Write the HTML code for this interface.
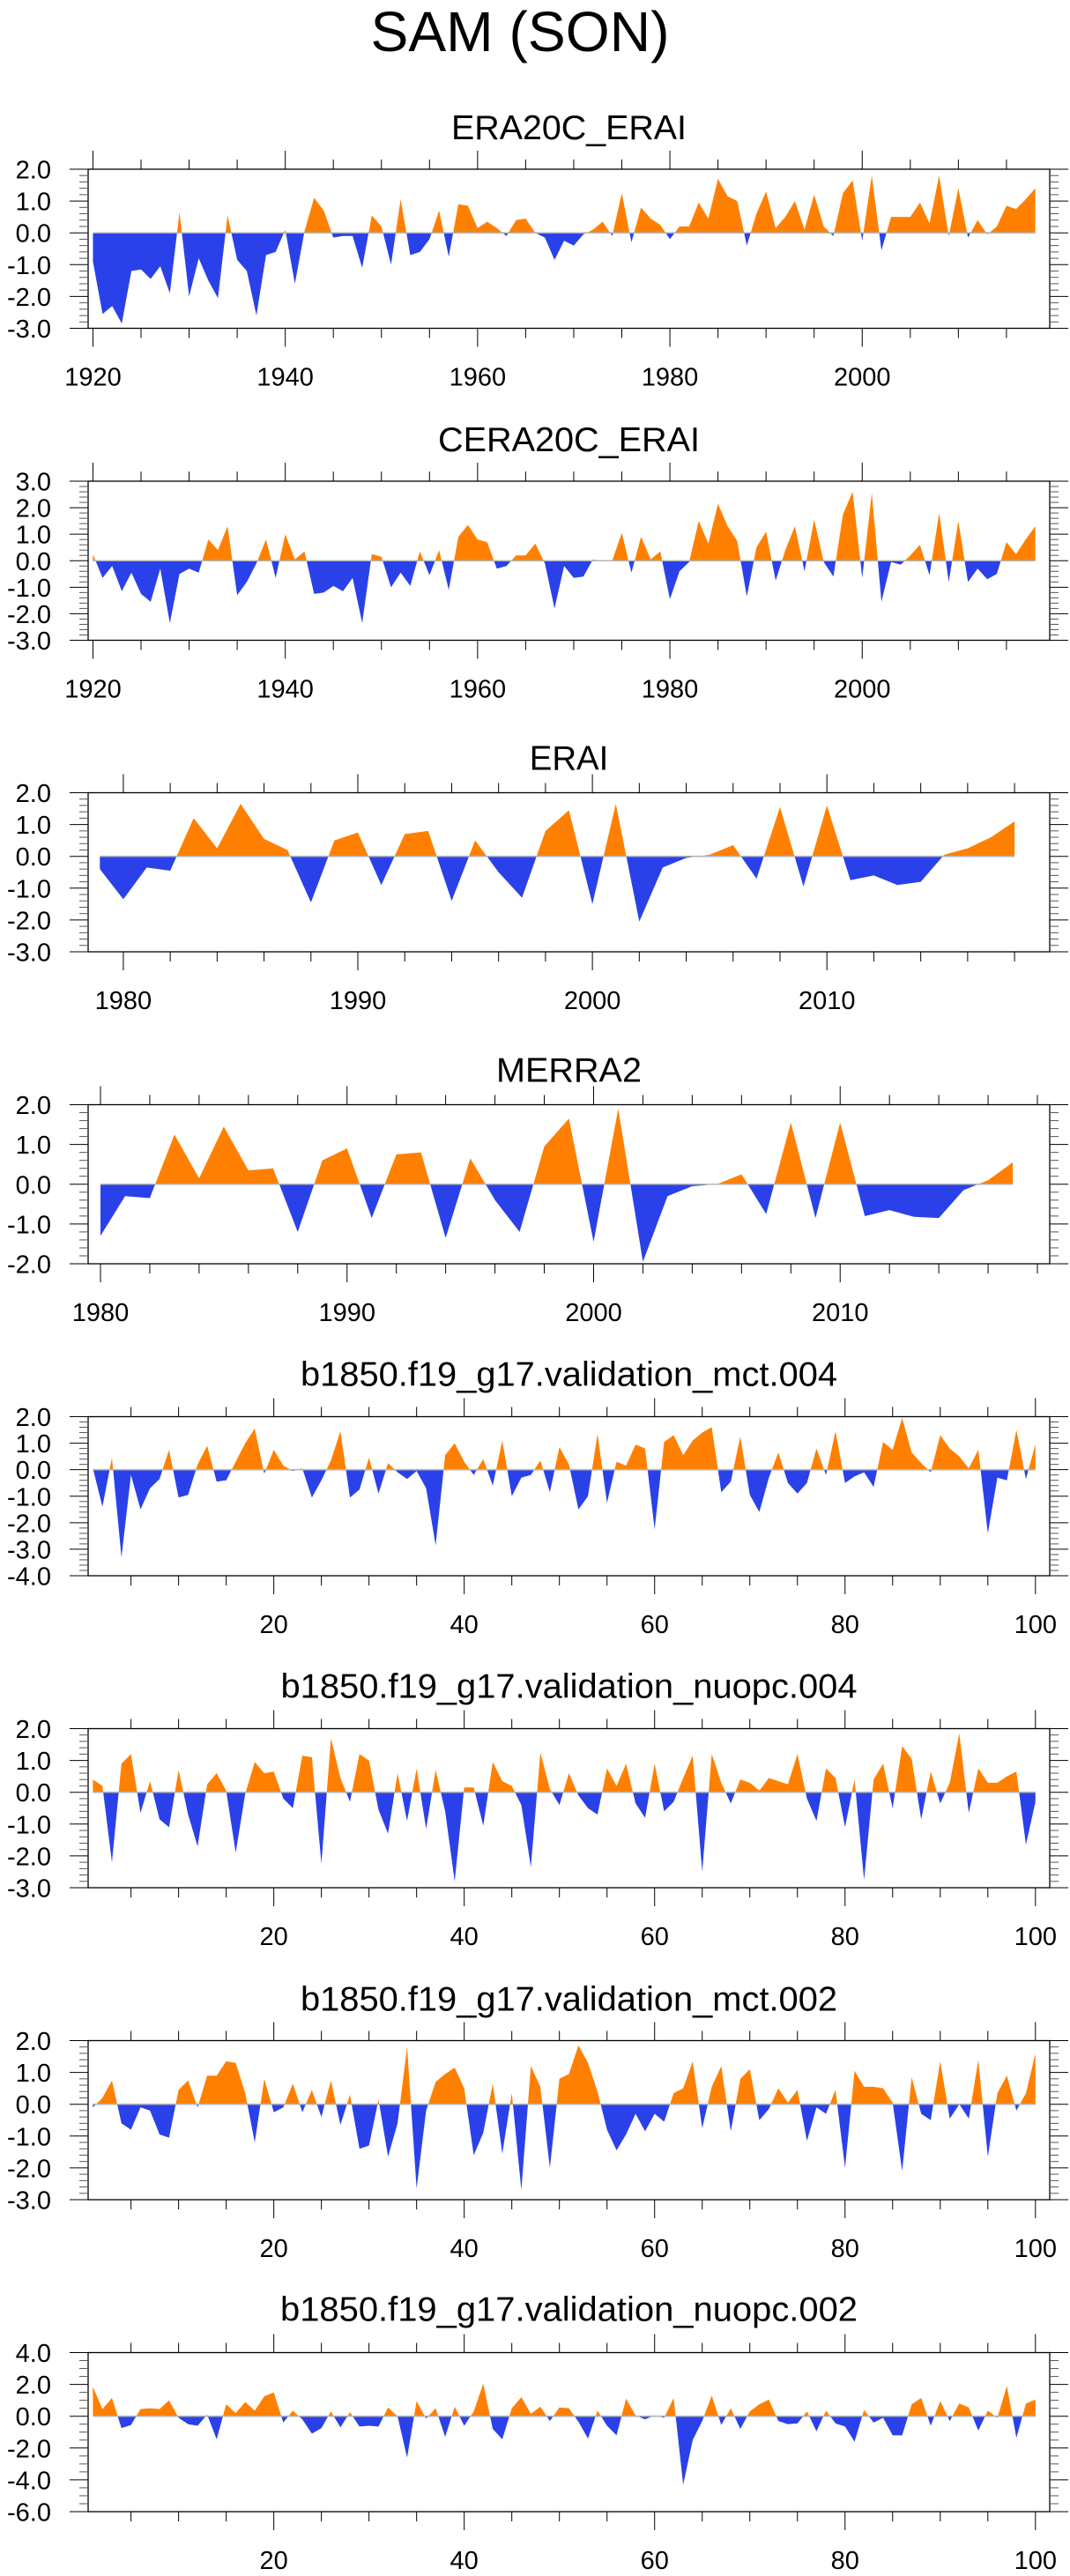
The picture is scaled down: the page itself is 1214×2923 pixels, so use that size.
<!DOCTYPE html>
<html><head><meta charset="utf-8"><title>SAM (SON)</title>
<style>html,body{margin:0;padding:0;background:#fff}svg{display:block}text{font-family:"Liberation Sans",Arial,sans-serif;fill:#000}</style>
</head><body>
<svg id="chart" xmlns="http://www.w3.org/2000/svg" width="1214" height="2923" viewBox="0 0 1214 2923">
<text x="590" y="58" font-size="64" text-anchor="middle" textLength="339" lengthAdjust="spacingAndGlyphs">SAM (SON)</text>
</svg>
<script>
const era20cYears=[1920,2018];
const era20cValues=[-0.9,-2.55,-2.3,-2.85,-1.2,-1.15,-1.45,-1.05,-1.9,0.65,-2.0,-0.8,-1.5,-2.05,0.55,-0.85,-1.2,-2.6,-0.7,-0.6,0.1,-1.6,0.05,1.1,0.7,-0.15,-0.1,-0.1,-1.1,0.55,0.2,-1.0,1.05,-0.7,-0.6,-0.2,0.7,-0.75,0.9,0.85,0.15,0.35,0.15,-0.1,0.4,0.45,0.0,-0.15,-0.85,-0.25,-0.4,-0.05,0.1,0.35,-0.1,1.25,-0.3,0.8,0.45,0.25,-0.2,0.2,0.2,0.95,0.45,1.7,1.15,1.0,-0.4,0.6,1.3,0.15,0.5,1.0,0.1,1.2,0.2,-0.1,1.25,1.65,-0.25,1.8,-0.55,0.5,0.5,0.5,0.95,0.3,1.8,-0.1,1.4,-0.15,0.4,-0.05,0.2,0.85,0.75,1.05,1.4];
const cera20cValues=[0.25,-0.65,-0.2,-1.15,-0.45,-1.25,-1.55,-0.3,-2.35,-0.5,-0.3,-0.45,0.8,0.4,1.3,-1.3,-0.8,-0.1,0.8,-0.65,1.0,0.05,0.35,-1.25,-1.2,-0.95,-1.15,-0.65,-2.35,0.25,0.15,-1.0,-0.45,-0.95,0.35,-0.55,0.4,-1.1,0.9,1.35,0.8,0.7,-0.3,-0.2,0.2,0.2,0.65,-0.1,-1.8,-0.2,-0.65,-0.6,0.05,-0.02,0.0,1.05,-0.45,0.9,0.05,0.35,-1.45,-0.4,-0.05,1.5,0.65,2.15,1.3,0.75,-1.35,0.5,1.1,-0.75,0.4,1.3,-0.4,1.55,-0.05,-0.6,1.75,2.6,-0.65,2.55,-1.55,-0.05,-0.15,0.2,0.6,-0.55,1.8,-0.8,1.5,-0.8,-0.3,-0.7,-0.5,0.7,0.25,0.8,1.3];
const eraiYears=[1979,2018];
const eraiValues=[-0.4,-1.35,-0.35,-0.45,1.2,0.25,1.65,0.55,0.2,-1.45,0.5,0.75,-0.9,0.7,0.8,-1.4,0.5,-0.5,-1.3,0.8,1.45,-1.5,1.65,-2.05,-0.35,-0.05,0.05,0.35,-0.7,1.55,-0.95,1.6,-0.75,-0.6,-0.9,-0.8,0.05,0.25,0.6,1.1];
const merraYears=[1980,2017];
const merraValues=[-1.3,-0.3,-0.35,1.25,0.15,1.45,0.35,0.4,-1.2,0.6,0.9,-0.85,0.75,0.8,-1.35,0.65,-0.4,-1.2,0.95,1.65,-1.45,1.9,-1.95,-0.3,-0.05,0.0,0.25,-0.75,1.55,-0.85,1.55,-0.8,-0.65,-0.82,-0.85,-0.15,0.1,0.55];
const modelYears=[1,100];
const mct004Values=[0.05,-1.4,0.45,-3.3,-0.2,-1.5,-0.7,-0.35,0.75,-1.05,-0.95,0.2,0.9,-0.45,-0.4,0.3,1.0,1.55,-0.15,0.75,0.15,-0.05,0.05,-1.05,-0.4,0.35,1.45,-1.05,-0.75,0.45,-0.9,0.25,-0.1,-0.35,-0.05,-0.7,-2.85,0.55,1.0,0.3,-0.2,0.4,-0.6,1.1,-1.0,-0.3,-0.2,0.35,-0.85,0.85,0.2,-1.5,-1.0,1.35,-1.25,0.3,0.15,0.95,0.8,-2.25,1.05,1.3,0.55,1.1,1.4,1.6,-0.85,-0.45,1.25,-0.95,-1.6,-0.3,0.65,-0.5,-0.9,-0.5,0.8,-0.2,1.45,-0.5,-0.25,-0.1,-0.65,1.05,0.75,1.95,0.65,0.25,-0.1,1.3,0.8,0.5,0.05,0.75,-2.4,-0.3,-0.4,1.5,-0.35,0.95];
const nuopc004Values=[0.4,0.2,-2.2,0.9,1.2,-0.65,0.35,-0.85,-1.1,0.7,-0.7,-1.7,0.25,0.6,0.05,-1.9,-0.05,0.95,0.6,0.65,-0.2,-0.5,1.15,1.1,-2.25,1.7,0.45,-0.3,1.2,1.0,-0.55,-1.3,0.6,-0.9,0.75,-1.15,0.7,-0.6,-2.8,0.15,0.15,-1.05,0.95,0.35,0.2,-0.4,-2.35,1.25,0.1,-0.4,0.6,-0.1,-0.5,-0.7,0.75,0.2,0.9,-0.35,-0.8,0.9,-0.6,-0.3,0.45,1.15,-2.5,1.2,0.3,-0.35,0.4,0.3,0.05,0.45,0.35,0.25,1.2,-0.2,-0.9,0.75,0.45,-1.1,0.4,-2.75,0.4,0.9,-0.5,1.45,1.05,-0.85,0.65,-0.35,0.3,1.85,-0.65,0.75,0.3,0.3,0.5,0.65,-1.65,-0.3];
const mct002Values=[-0.1,0.2,0.75,-0.6,-0.8,-0.1,-0.2,-0.95,-1.05,0.45,0.75,-0.1,0.9,0.9,1.35,1.3,0.35,-1.2,0.8,-0.25,-0.1,0.65,-0.25,0.45,-0.4,0.75,-0.65,0.3,-1.4,-1.3,0.15,-1.65,-0.6,1.8,-2.65,-0.2,0.7,0.95,1.15,0.5,-1.6,-0.9,0.65,-1.55,0.35,-2.7,1.2,0.55,-2.0,0.8,0.95,1.85,1.3,0.4,-0.8,-1.45,-0.95,-0.3,-0.85,-0.3,-0.55,0.35,0.5,1.35,-0.75,0.55,1.2,-0.85,0.8,1.1,-0.5,-0.15,0.5,0.05,0.45,-1.15,-0.1,-0.3,0.45,-2.0,1.05,0.55,0.55,0.5,0.05,-2.1,0.85,-0.3,-0.5,1.35,-0.45,0.0,-0.45,1.4,-1.65,0.35,0.9,-0.2,0.35,1.6];
const nuopc002Values=[1.85,0.45,1.15,-0.75,-0.55,0.45,0.5,0.45,1.0,-0.1,-0.5,-0.6,0.1,-1.45,0.75,0.2,0.9,0.35,1.25,1.5,-0.4,0.35,-0.2,-1.1,-0.75,0.3,-0.7,0.25,-0.65,-0.6,-0.65,0.55,0.0,-2.6,0.95,-0.15,0.5,-1.3,0.6,-0.6,0.3,2.05,-0.8,-1.45,0.5,1.2,0.15,0.6,-0.3,0.55,0.5,-0.35,-1.4,0.35,-0.6,-1.2,1.1,0.05,-0.2,0.05,-0.1,1.15,-4.3,-1.5,-0.3,1.3,-0.55,0.5,-0.8,0.3,0.75,1.05,-0.3,-0.5,-0.45,0.3,-0.95,0.35,-0.45,-0.65,-1.6,0.4,-0.4,-0.1,-1.2,-1.2,0.75,1.15,-0.6,0.95,-0.3,0.8,0.55,-0.9,0.35,-0.1,1.9,-1.35,0.8,1.05];
const yearLabels=[1920,1940,1960,1980,2000];
const eraiLabels=[1980,1990,2000,2010];
const modelLabels=[20,40,60,80,100];

const NS='http://www.w3.org/2000/svg';
const svg=document.getElementById('chart');
const BOXL=100,BOXR=1191,BOXH=180.5;
function mk(tag,attrs,parent){const e=document.createElementNS(NS,tag);for(const k in attrs)e.setAttribute(k,attrs[k]);(parent||svg).appendChild(e);return e;}
function fmt(v){return v.toFixed(1);}

const panels=[
 {key:'era20c-erai',title:'ERA20C_ERAI',tw:267,top:192,tOff:34,years:era20cYears,vals:era20cValues,ymin:-3,ymax:2,ymaj:1,ymin2:0.2,labels:yearLabels,xmaj:20,xmin2:5},
 {key:'cera20c-erai',title:'CERA20C_ERAI',tw:297,top:546,tOff:34,years:era20cYears,vals:cera20cValues,ymin:-3,ymax:3,ymaj:1,ymin2:0.2,labels:yearLabels,xmaj:20,xmin2:5},
 {key:'erai',title:'ERAI',tw:89.5,top:899.5,tOff:26,years:eraiYears,vals:eraiValues,ymin:-3,ymax:2,ymaj:1,ymin2:0.2,labels:eraiLabels,xmaj:10,xmin2:2},
 {key:'merra2',title:'MERRA2',tw:165,top:1253.5,tOff:26,years:merraYears,vals:merraValues,ymin:-2,ymax:2,ymaj:1,ymin2:0.2,labels:eraiLabels,xmaj:10,xmin2:2},
 {key:'mct004',title:'b1850.f19_g17.validation_mct.004',tw:609,top:1607.5,tOff:35,years:modelYears,vals:mct004Values,ymin:-4,ymax:2,ymaj:1,ymin2:0.2,labels:modelLabels,xmaj:20,xmin2:5},
 {key:'nuopc004',title:'b1850.f19_g17.validation_nuopc.004',tw:654,top:1961.5,tOff:35,years:modelYears,vals:nuopc004Values,ymin:-3,ymax:2,ymaj:1,ymin2:0.2,labels:modelLabels,xmaj:20,xmin2:5},
 {key:'mct002',title:'b1850.f19_g17.validation_mct.002',tw:609,top:2315.5,tOff:34,years:modelYears,vals:mct002Values,ymin:-3,ymax:2,ymaj:1,ymin2:0.2,labels:modelLabels,xmaj:20,xmin2:5},
 {key:'nuopc002',title:'b1850.f19_g17.validation_nuopc.002',tw:655,top:2669.5,tOff:36,years:modelYears,vals:nuopc002Values,ymin:-6,ymax:4,ymaj:2,ymin2:0.5,labels:modelLabels,xmaj:20,xmin2:5}
];

panels.forEach((p,pi)=>{
  const g=mk('g',{});
  
  
  const x0=p.years[0]-0.5,x1=p.years[1]+1.5;
  const X=v=>BOXL+(v-x0)/(x1-x0)*(BOXR-BOXL);
  const top=p.top,bot=p.top+BOXH;
  const Y=v=>top+(p.ymax-v)/(p.ymax-p.ymin)*BOXH;
  const y0=Y(0);
  // title
  const t=mk('text',{x:645.5,y:top-p.tOff,'font-size':39,'text-anchor':'middle',textLength:p.tw,lengthAdjust:'spacingAndGlyphs'},g);
  t.textContent=p.title;
  
  
  // clip paths
  const defs=mk('defs',{},g);
  const cpA=mk('clipPath',{id:'ca'+pi},defs);mk('rect',{x:BOXL,y:top,width:BOXR-BOXL,height:y0-top},cpA);
  const cpB=mk('clipPath',{id:'cb'+pi},defs);mk('rect',{x:BOXL,y:y0,width:BOXR-BOXL,height:bot-y0},cpB);
  let d='M'+X(p.years[0])+','+y0;
  p.vals.forEach((v,i)=>{d+=' L'+X(p.years[0]+i).toFixed(2)+','+Y(v).toFixed(2);});
  d+=' L'+X(p.years[0]+p.vals.length-1)+','+y0+' Z';
  const fa=mk('path',{d:d,fill:'#ff8000','clip-path':'url(#ca'+pi+')'},g);
  
  
  const fb=mk('path',{d:d,fill:'#2a41ea','clip-path':'url(#cb'+pi+')'},g);
  
  
  const zl=mk('line',{x1:X(p.years[0]),x2:X(p.years[0]+p.vals.length-1),y1:y0,y2:y0,stroke:'#b4b4b4','stroke-width':1.6},g);
  
  
  // box
  const box=mk('rect',{x:BOXL,y:top,width:BOXR-BOXL,height:BOXH,fill:'none',stroke:'#000','stroke-width':1.3},g);
  
  
  // y ticks
  const steps=Math.round((p.ymax-p.ymin)/p.ymin2);
  for(let k=0;k<=steps;k++){
    const v=p.ymin+k*p.ymin2;const yy=Y(v);
    const major=Math.abs(v/p.ymaj-Math.round(v/p.ymaj))<1e-6;
    const L=major?21:10;
    mk('line',{x1:BOXL-L,x2:BOXL,y1:yy,y2:yy,stroke:major?'#000':'#555','stroke-width':1},g);
    mk('line',{x1:BOXR,x2:BOXR+L,y1:yy,y2:yy,stroke:major?'#000':'#555','stroke-width':1},g);
    if(major){
      const lt=mk('text',{x:58,y:yy+10.5,'font-size':29,'text-anchor':'end'},g);
      lt.textContent=fmt(v);
      
      
    }
  }
  // x ticks
  const start=Math.ceil(x0/p.xmin2)*p.xmin2;
  for(let v=start;v<=x1;v+=p.xmin2){
    const xx=X(v);const major=v%p.xmaj===0;const L=major?21:11;
    mk('line',{x1:xx,x2:xx,y1:bot,y2:bot+L,stroke:'#000','stroke-width':1},g);
    mk('line',{x1:xx,x2:xx,y1:top-L,y2:top,stroke:'#000','stroke-width':1},g);
  }
  p.labels.forEach(lb=>{
    const lt=mk('text',{x:X(lb),y:bot+65,'font-size':29,'text-anchor':'middle'},g);
    lt.textContent=String(lb);
    
    
  });
});
</script>
</body></html>
